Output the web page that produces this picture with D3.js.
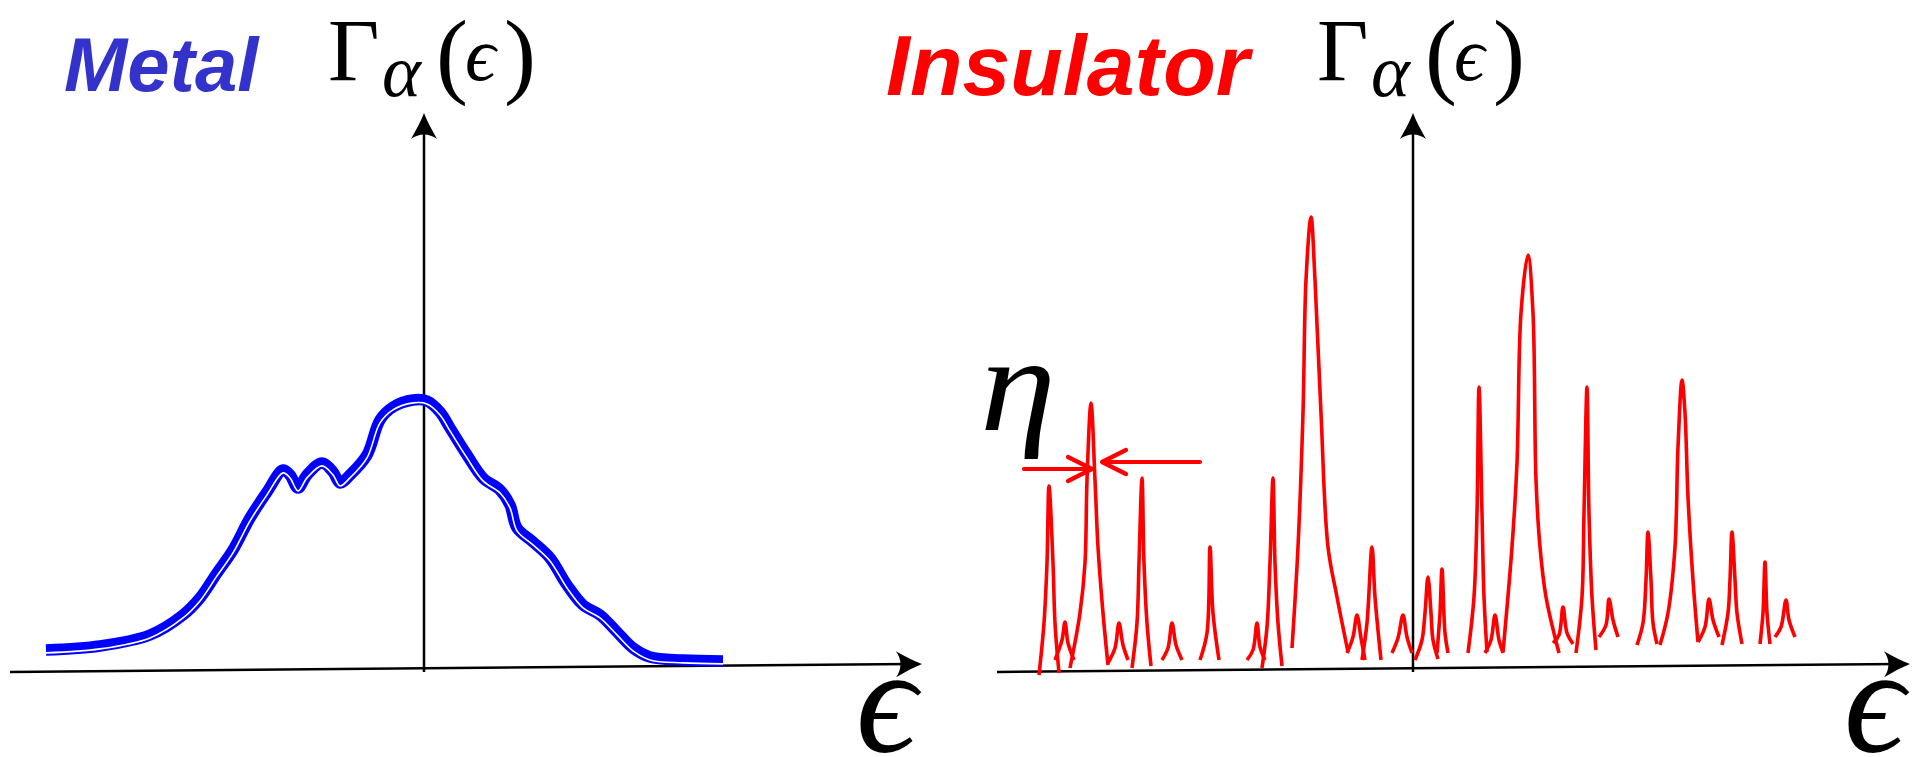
<!DOCTYPE html>
<html>
<head>
<meta charset="utf-8">
<script src="https://cdn.jsdelivr.net/npm/d3@7"></script>
<style>
  body { margin: 0; background: #fff; }
  svg { display: block; }
</style>
</head>
<body>
<svg id="fig" width="1918" height="757"></svg>
<script>
// Metal: smooth broadening of the level width (energy, width)
const metalEps = [-3.78, -3.24, -2.74, -2.41, -2.24, -2.07, -1.91, -1.74, -1.57, -1.41,
  -1.34, -1.26, -1.17, -1.02, -0.91, -0.84, -0.74, -0.57, -0.44, -0.31,
  -0.11, 0.03, 0.16, 0.26, 0.43, 0.59, 0.76, 0.86, 0.93, 1.09,
  1.26, 1.43, 1.59, 1.76, 1.93, 2.09, 2.26, 2.59, 2.99];
const metalGamma = [0.20, 0.24, 0.35, 0.55, 0.72, 0.97, 1.20, 1.52, 1.78, 2.00,
  1.95, 1.82, 1.95, 2.07, 1.98, 1.87, 1.95, 2.15, 2.50, 2.63,
  2.70, 2.69, 2.58, 2.42, 2.15, 1.92, 1.80, 1.65, 1.42, 1.28,
  1.12, 0.85, 0.65, 0.55, 0.38, 0.22, 0.13, 0.10, 0.09];

// Insulator: isolated peaks, each one a separate stroke of [energy, width] points
const insulatorPeaks = [
  [[-3.74, -0.05], [-3.69, 0.47], [-3.66, 1.07], [-3.64, 1.84], [-3.60, 1.07], [-3.58, 0.47], [-3.54, -0.03]],
  [[-3.58, 0.10], [-3.51, 0.30], [-3.48, 0.48], [-3.45, 0.27], [-3.39, 0.10]],
  [[-3.43, 0.02], [-3.33, 0.57], [-3.28, 1.07], [-3.26, 1.90], [-3.22, 2.67], [-3.18, 1.90], [-3.15, 1.23], [-3.10, 0.57], [-3.05, 0.05]],
  [[-3.05, 0.07], [-2.98, 0.22], [-2.94, 0.47], [-2.90, 0.25], [-2.85, 0.10]],
  [[-2.81, 0.02], [-2.76, 0.47], [-2.74, 1.07], [-2.71, 1.92], [-2.69, 1.07], [-2.66, 0.47], [-2.62, 0.04]],
  [[-2.51, 0.10], [-2.45, 0.22], [-2.41, 0.47], [-2.37, 0.25], [-2.31, 0.10]],
  [[-2.13, 0.10], [-2.06, 0.37], [-2.03, 1.23], [-2.00, 0.57], [-1.94, 0.10]],
  [[-1.66, 0.10], [-1.60, 0.20], [-1.56, 0.47], [-1.53, 0.23], [-1.48, 0.10]],
  [[-1.51, 0.02], [-1.46, 0.43], [-1.43, 1.07], [-1.40, 1.92], [-1.38, 1.07], [-1.35, 0.47], [-1.31, 0.04]],
  [[-1.21, 0.22], [-1.15, 1.23], [-1.10, 2.57], [-1.07, 3.90], [-1.02, 4.53], [-0.98, 3.90], [-0.92, 2.57], [-0.85, 1.23], [-0.76, 0.73], [-0.65, 0.18]],
  [[-0.66, 0.17], [-0.60, 0.33], [-0.56, 0.55], [-0.52, 0.32], [-0.48, 0.10]],
  [[-0.51, 0.10], [-0.46, 0.47], [-0.41, 1.23], [-0.38, 0.73], [-0.32, 0.10]],
  [[-0.21, 0.17], [-0.15, 0.32], [-0.10, 0.55], [-0.06, 0.33], [-0.01, 0.17]],
  [[0.02, 0.10], [0.09, 0.30], [0.12, 0.57], [0.15, 0.93], [0.18, 0.57], [0.20, 0.30], [0.25, 0.11]],
  [[0.24, 0.17], [0.27, 0.57], [0.29, 1.01], [0.32, 0.37], [0.35, 0.17]],
  [[0.55, 0.17], [0.61, 0.73], [0.64, 1.57], [0.66, 2.83], [0.69, 1.57], [0.71, 0.73], [0.74, 0.18]],
  [[0.72, 0.17], [0.78, 0.30], [0.82, 0.55], [0.86, 0.30], [0.90, 0.17]],
  [[0.90, 0.18], [0.99, 1.23], [1.04, 2.07], [1.08, 3.57], [1.15, 4.15], [1.20, 3.57], [1.23, 1.90], [1.27, 1.23], [1.33, 0.73], [1.46, 0.17]],
  [[1.40, 0.27], [1.46, 0.35], [1.50, 0.63], [1.54, 0.37], [1.60, 0.26]],
  [[1.63, 0.17], [1.69, 0.73], [1.71, 1.57], [1.74, 2.83], [1.76, 1.57], [1.79, 0.73], [1.83, 0.20]],
  [[1.86, 0.33], [1.93, 0.45], [1.96, 0.71], [2.00, 0.50], [2.05, 0.33]],
  [[2.24, 0.25], [2.30, 0.47], [2.33, 0.90], [2.35, 1.38], [2.38, 0.90], [2.40, 0.47], [2.44, 0.26]],
  [[2.47, 0.25], [2.55, 0.57], [2.62, 1.23], [2.65, 2.23], [2.69, 2.90], [2.72, 2.57], [2.75, 1.73], [2.80, 0.90], [2.85, 0.28]],
  [[2.85, 0.28], [2.92, 0.43], [2.96, 0.71], [3.00, 0.50], [3.06, 0.33]],
  [[3.09, 0.25], [3.15, 0.57], [3.17, 0.90], [3.19, 1.38], [3.22, 0.90], [3.24, 0.57], [3.29, 0.26]],
  [[3.47, 0.26], [3.50, 0.57], [3.52, 1.08], [3.54, 0.57], [3.57, 0.26]],
  [[3.62, 0.33], [3.68, 0.43], [3.73, 0.70], [3.76, 0.50], [3.82, 0.33]]
];

// eta marker: arrow tails / tips (energy) and heights
const etaArrowEps = [-3.89, -3.21, -2.13, -3.11];
const etaArrowGamma = [2.01, 2.08];

const svg = d3.select("#fig");
svg.append("rect").attr("width", 1918).attr("height", 757).attr("fill", "#fff");

const yScale = d3.scaleLinear().domain([0, 5.57]).range([670, 113]);
const xLeft = d3.scaleLinear().domain([-4.14, 4.98]).range([10, 922]);
const xRight = d3.scaleLinear().domain([-4.16, 4.97]).range([997, 1910]);

const serif = "'Liberation Serif','DejaVu Serif',serif";
const arrowHead = "M0,0 C-8,-3 -17,-8 -26,-13 C-20,-5 -20,5 -26,13 C-17,8 -8,3 0,0 Z";
const tilt = -8; // the energy axis climbs slightly to the right

function drawAxes(x) {
  const g = svg.append("g");
  const [d0, d1] = x.domain();
  const y0 = yScale(0);
  const tipX = x(d1), tipY = y0 + tilt + 2;
  const ang = Math.atan2(tilt, x(d1) - x(d0)) * 180 / Math.PI;
  g.append("line")
    .attr("x1", x(d0)).attr("y1", y0 + 2)
    .attr("x2", tipX - 10).attr("y2", tipY)
    .attr("stroke", "#000").attr("stroke-width", 2.5);
  g.append("path").attr("d", arrowHead).attr("fill", "#000")
    .attr("transform", `translate(${tipX},${tipY}) rotate(${ang})`);
  // vertical axis
  const yTop = yScale(yScale.domain()[1]);
  g.append("line")
    .attr("x1", x(0)).attr("y1", y0 + 2)
    .attr("x2", x(0)).attr("y2", yTop + 10)
    .attr("stroke", "#000").attr("stroke-width", 2.5);
  g.append("path").attr("d", arrowHead).attr("fill", "#000")
    .attr("transform", `translate(${x(0)},${yTop}) rotate(-90)`);

  // Γα(ϵ) at the top of the vertical axis, one text with tspans
  const ax = x(0);
  const t = svg.append("text").attr("font-family", serif).attr("fill", "#000");
  t.append("tspan").attr("x", ax - 96).attr("y", 80).attr("font-size", 89).text("\u0393");
  t.append("tspan").attr("x", ax - 42).attr("y", 96).attr("font-size", 74).attr("font-style", "italic").text("\u03B1");
  t.append("tspan").attr("x", ax + 12).attr("y", 86).attr("font-size", 96).text("(");
  t.append("tspan").attr("x", ax + 41).attr("y", 80).attr("font-size", 76).attr("font-style", "italic").text("\u03F5");
  t.append("tspan").attr("x", ax + 80).attr("y", 86).attr("font-size", 96).text(")");

  // ϵ under the arrow tip
  svg.append("text").attr("font-family", serif).attr("fill", "#000")
    .attr("x", tipX - 66).attr("y", 752).attr("font-size", 150).attr("font-style", "italic")
    .text("\u03F5");
}

drawAxes(xLeft);
drawAxes(xRight);

// Metal curve: thick blue stroke with a thin white groove below its centre
const metalPts = metalEps.map((e, i) => [e, metalGamma[i]]);
const metalLine = d3.line()
  .x(d => xLeft(d[0])).y(d => yScale(d[1]))
  .curve(d3.curveCatmullRom.alpha(0.5));
svg.append("path").attr("d", metalLine(metalPts))
  .attr("fill", "none").attr("stroke", "#0000ff").attr("stroke-width", 11.5)
  .attr("stroke-linejoin", "round");
svg.append("path").attr("d", metalLine(metalPts))
  .attr("transform", "translate(0,2.9)")
  .attr("fill", "none").attr("stroke", "#fff").attr("stroke-width", 1.6)
  .attr("stroke-linejoin", "round");

// Insulator peaks
const peakLine = d3.line()
  .x(d => xRight(d[0])).y(d => yScale(d[1]))
  .curve(d3.curveCatmullRom.alpha(0.5));
svg.append("g").selectAll("path")
  .data(insulatorPeaks).join("path")
  .attr("d", d => peakLine(d))
  .attr("fill", "none").attr("stroke", "#ff0000").attr("stroke-width", 3.6)
  .attr("stroke-linejoin", "round");

// eta width arrows
const eg = svg.append("g").attr("stroke", "#ff0000").attr("stroke-width", 4.2)
  .attr("stroke-linecap", "round").attr("stroke-linejoin", "round").attr("fill", "none");
const [tailL, tipL, tailR, tipR] = etaArrowEps.map(e => xRight(e));
const [yL, yR] = etaArrowGamma.map(v => yScale(v));
eg.append("path").attr("d", `M${tailL},${yL} L${tipL},${yL} M${tipL - 24},${yL - 12} L${tipL},${yL} L${tipL - 24},${yL + 12}`);
eg.append("path").attr("d", `M${tailR},${yR} L${tipR},${yR} M${tipR + 24},${yR - 12} L${tipR},${yR} L${tipR + 24},${yR + 12}`);

svg.append("text").attr("x", 980).attr("y", 430)
  .attr("font-family", serif)
  .attr("font-style", "italic").attr("font-size", 136).attr("fill", "#000")
  .attr("textLength", 76).attr("lengthAdjust", "spacingAndGlyphs")
  .text("\u03B7");

// panel titles
svg.append("text").attr("x", 64).attr("y", 91)
  .attr("font-family", "'Liberation Sans',Arial,sans-serif")
  .attr("font-weight", "bold").attr("font-style", "italic")
  .attr("font-size", 76).attr("fill", "#3333cc").text("Metal");
svg.append("text").attr("x", 886).attr("y", 95)
  .attr("font-family", "'Liberation Sans',Arial,sans-serif")
  .attr("font-weight", "bold").attr("font-style", "italic")
  .attr("font-size", 86).attr("fill", "#ff0000").text("Insulator");
</script>
</body>
</html>
